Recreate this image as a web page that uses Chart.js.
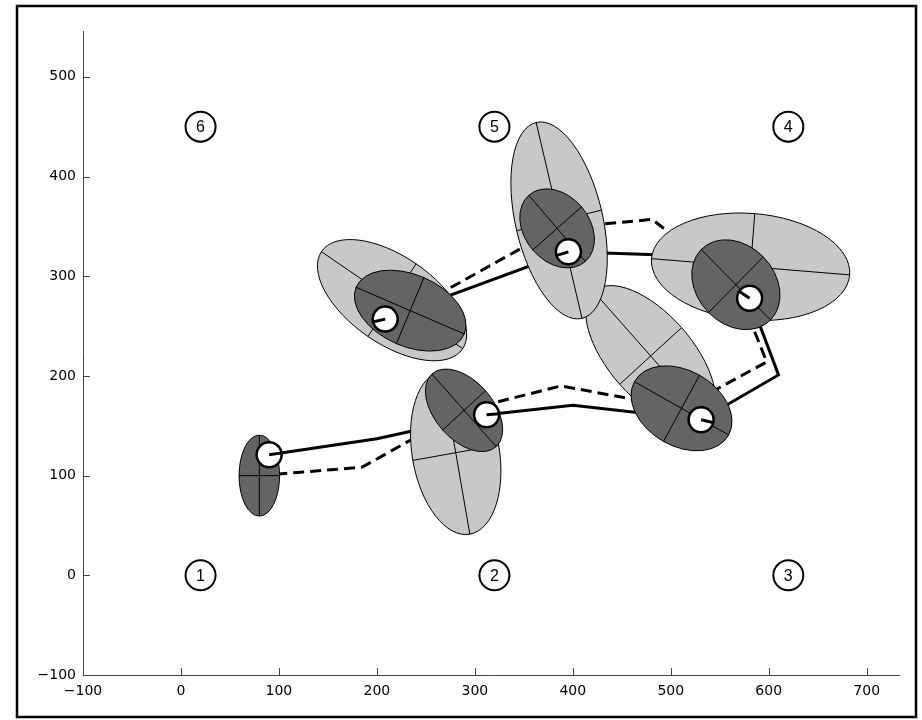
<!DOCTYPE html>
<html lang="en">
<head>
    <meta charset="UTF-8">
    <title>Robot pose estimates</title>
    <script src="https://cdn.jsdelivr.net/npm/chart.js"></script>
    <style>
        body { margin: 0; background: #fff; }
        canvas { display: block; }
    </style>
</head>
<body>
    <canvas id="poseChart" width="922" height="720"></canvas>

    <script>
        // axis ticks
        const xTickValues = [-100, 0, 100, 200, 300, 400, 500, 600, 700];
        const yTickValues = [-100, 0, 100, 200, 300, 400, 500];

        // landmarks
        const landmarkX = [20, 320, 620, 620, 320, 20];
        const landmarkY = [0, 0, 0, 450, 450, 450];
        const landmarkIds = ['1', '2', '3', '4', '5', '6'];

        // true poses (white circles) and heading in degrees
        const poseX = [90, 312, 531, 580.5, 395.5, 208.5];
        const poseY = [121, 161, 156, 278, 324.5, 257];
        const poseHeading = [8, 5, -13, 146, 197, 193];

        // true path (solid) and estimated path (dashed)
        const truePathX = [90, 200, 312, 400, 531, 610, 580.5, 500, 395.5, 208.5];
        const truePathY = [121, 137, 161, 170.5, 156, 201, 278, 321, 324.5, 257];
        const estPathX = [80, 185, 289, 388, 511, 598, 566.5, 481, 384, 234];
        const estPathY = [100, 108.5, 165.5, 190, 167.5, 214, 291.5, 357, 348, 266];

        // predicted covariance ellipses (light), none for the first pose
        const predX = [null, 280.5, 479.5, 581.5, 386, 215.5];
        const predY = [null, 123, 220, 309.5, 356, 276];
        const predA = [null, 83, 87, 101.5, 101, 87];
        const predB = [null, 44.5, 42.5, 53.5, 44.5, 44];
        const predAngle = [null, 100, -48, -4.6, 103.4, -34];

        // updated covariance ellipses (dark)
        const updX = [80, 289, 511, 566.5, 384, 234];
        const updY = [100, 165.5, 167.5, 291.5, 348, 265.5];
        const updA = [40.6, 49, 55, 50, 44, 60];
        const updB = [20.7, 29.5, 38, 39.5, 33, 36];
        const updAngle = [90, -48, -29, -45, -49, -23];

        const toPoints = (xs, ys) => xs.map((x, i) => ({ x: x, y: ys[i] }));

        function drawEllipse(chart, x, y, a, b, angle, fill) {
            const ctx = chart.ctx;
            const xs = chart.scales.x, ys = chart.scales.y;
            const cx = xs.getPixelForValue(x), cy = ys.getPixelForValue(y);
            const sx = xs.getPixelForValue(1) - xs.getPixelForValue(0);
            const sy = ys.getPixelForValue(0) - ys.getPixelForValue(1);
            const setup = () => {
                ctx.translate(cx, cy);
                ctx.scale(sx, -sy);
                ctx.rotate(angle * Math.PI / 180);
            };
            ctx.save();
            setup();
            ctx.beginPath();
            ctx.ellipse(0, 0, a, b, 0, 0, Math.PI * 2);
            ctx.restore();
            ctx.fillStyle = fill;
            ctx.fill();
            ctx.lineWidth = 1;
            ctx.strokeStyle = '#000';
            ctx.stroke();

            ctx.save();
            setup();
            ctx.beginPath();
            ctx.moveTo(-a, 0); ctx.lineTo(a, 0);
            ctx.moveTo(0, -b); ctx.lineTo(0, b);
            ctx.restore();
            ctx.stroke();
        }

        const posePlugin = {
            id: 'posePlugin',
            beforeDatasetDraw(chart, args) {
                if (args.index !== 2) return;
                const ctx = chart.ctx;
                ctx.save();
                for (let k = 0; k < updX.length; k++) {
                    if (predX[k] !== null) {
                        drawEllipse(chart, predX[k], predY[k], predA[k], predB[k], predAngle[k], '#c8c8c8');
                    }
                    drawEllipse(chart, updX[k], updY[k], updA[k], updB[k], updAngle[k], '#646464');
                }
                ctx.restore();
            },
            afterDatasetDraw(chart, args) {
                if (args.index !== 2) return;
                const ctx = chart.ctx;
                const xs = chart.scales.x, ys = chart.scales.y;
                ctx.save();
                ctx.strokeStyle = '#000';
                ctx.lineWidth = 3;
                ctx.lineCap = 'butt';
                poseX.forEach((x, i) => {
                    const px = xs.getPixelForValue(x), py = ys.getPixelForValue(poseY[i]);
                    const t = poseHeading[i] * Math.PI / 180;
                    ctx.beginPath();
                    ctx.moveTo(px, py);
                    ctx.lineTo(px + 13 * Math.cos(t), py - 13 * Math.sin(t));
                    ctx.stroke();
                });
                ctx.restore();
            },
            afterDatasetsDraw(chart) {
                const ctx = chart.ctx;
                const xs = chart.scales.x, ys = chart.scales.y;
                ctx.save();
                // landmark numbers
                ctx.fillStyle = '#000';
                ctx.font = '16px "Liberation Sans", Arial, sans-serif';
                ctx.textAlign = 'center';
                ctx.textBaseline = 'middle';
                landmarkIds.forEach((id, i) => {
                    ctx.fillText(id, xs.getPixelForValue(landmarkX[i]), ys.getPixelForValue(landmarkY[i]) + 1);
                });
                // inward tick marks
                ctx.strokeStyle = '#444';
                ctx.lineWidth = 1;
                ctx.beginPath();
                xTickValues.forEach(v => {
                    const px = Math.round(xs.getPixelForValue(v)) + 0.5;
                    ctx.moveTo(px, chart.chartArea.bottom);
                    ctx.lineTo(px, chart.chartArea.bottom - 7);
                });
                yTickValues.forEach(v => {
                    const py = Math.round(ys.getPixelForValue(v)) + 0.5;
                    ctx.moveTo(chart.chartArea.left, py);
                    ctx.lineTo(chart.chartArea.left + 7, py);
                });
                ctx.stroke();
                ctx.restore();
            },
            afterDraw(chart) {
                const ctx = chart.ctx;
                ctx.save();
                ctx.strokeStyle = '#000';
                ctx.lineWidth = 2.5;
                ctx.strokeRect(17, 6, 899, 711);
                ctx.restore();
            }
        };

        const tickLabel = v => String(v).replace('-', '\u2212');

        Chart.defaults.font.family = '"DejaVu Sans", sans-serif';
        Chart.defaults.font.size = 14;
        Chart.defaults.color = '#000';

        new Chart(document.getElementById('poseChart'), {
            type: 'scatter',
            data: {
                datasets: [
                    {
                        label: 'true path',
                        data: toPoints(truePathX, truePathY),
                        showLine: true,
                        borderColor: '#000',
                        borderWidth: 3,
                        pointRadius: 0,
                        order: 4
                    },
                    {
                        label: 'estimated path',
                        data: toPoints(estPathX, estPathY),
                        showLine: true,
                        borderColor: '#000',
                        borderWidth: 3,
                        borderDash: [11, 6],
                        pointRadius: 0,
                        order: 3
                    },
                    {
                        label: 'poses',
                        data: toPoints(poseX, poseY),
                        pointRadius: 12.5,
                        pointBackgroundColor: '#fff',
                        pointBorderColor: '#000',
                        pointBorderWidth: 2.5,
                        order: 2
                    },
                    {
                        label: 'landmarks',
                        data: toPoints(landmarkX, landmarkY),
                        pointRadius: 15,
                        pointBackgroundColor: '#fff',
                        pointBorderColor: '#000',
                        pointBorderWidth: 2,
                        order: 1
                    }
                ]
            },
            options: {
                responsive: false,
                animation: false,
                devicePixelRatio: 1,
                layout: { padding: { top: 31, right: 23, left: 0, bottom: 0 } },
                plugins: {
                    legend: { display: false },
                    tooltip: { enabled: false }
                },
                scales: {
                    x: {
                        type: 'linear',
                        min: -100,
                        max: 733,
                        afterFit: s => { s.height = 45; },
                        afterBuildTicks: s => { s.ticks = xTickValues.map(v => ({ value: v })); },
                        ticks: { callback: tickLabel, padding: 8, maxRotation: 0 },
                        grid: { drawOnChartArea: false, drawTicks: false },
                        border: { display: true, color: '#444', width: 1 }
                    },
                    y: {
                        type: 'linear',
                        min: -100,
                        max: 546,
                        afterFit: s => { s.width = 83; },
                        afterBuildTicks: s => { s.ticks = yTickValues.map(v => ({ value: v })); },
                        ticks: { callback: tickLabel, padding: 7 },
                        grid: { drawOnChartArea: false, drawTicks: false },
                        border: { display: true, color: '#444', width: 1 }
                    }
                }
            },
            plugins: [posePlugin]
        });
    </script>
</body>
</html>
